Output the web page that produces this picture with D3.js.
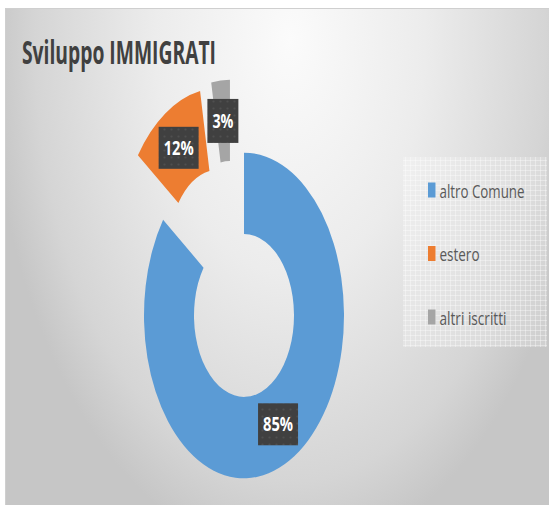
<!DOCTYPE html>
<html><head><meta charset="utf-8">
<script src="https://cdn.jsdelivr.net/npm/d3@7"></script>
<style>html,body{margin:0;padding:0;background:#fff;}svg{display:block;}</style>
</head><body>
<script>
// ---- data ----
const categories = ["altro Comune", "estero", "altri iscritti"];
const values = [85, 12, 3];
const labels = ["85%", "12%", "3%"];
const title = "Sviluppo IMMIGRATI";

// ---- style / layout ----
const colors = ["#5b9bd5", "#ed7d31", "#a5a5a5"];
const explode = [0, 0.47, 0.47];       // fraction of outer radius
const explodeTilt = [0, 0, -12];       // degrees
const W = 549, H = 505;
const cx = 244, cy = 315.5, R = 100, r = 50, k = 1.628;

const svg = d3.select("body").append("svg").attr("width", W).attr("height", H);
const defs = svg.append("defs");

const bg = defs.append("radialGradient").attr("id", "bg")
  .attr("gradientUnits", "userSpaceOnUse")
  .attr("cx", 0).attr("cy", 0).attr("r", 1)
  .attr("gradientTransform", "translate(290,40) scale(300,520)");
[[0, "#fbfbfb"], [0.45, "#ececec"], [0.85, "#d5d5d5"], [1, "#c6c6c6"]]
  .forEach(([o, c]) => bg.append("stop").attr("offset", o).attr("stop-color", c));

const dots = defs.append("pattern").attr("id", "dots").attr("patternUnits", "userSpaceOnUse")
  .attr("width", 7).attr("height", 7);
dots.append("rect").attr("width", 7).attr("height", 7).attr("fill", "#404040");
dots.append("circle").attr("cx", 3.5).attr("cy", 3.5).attr("r", 1.1).attr("fill", "#4f4f4f");

const grid = defs.append("pattern").attr("id", "grid").attr("patternUnits", "userSpaceOnUse")
  .attr("width", 5).attr("height", 5);
grid.append("rect").attr("width", 5).attr("height", 5).attr("fill", "rgba(255,255,255,0.18)");
grid.append("path").attr("d", "M0 0.5H5M0.5 0V5").attr("stroke", "rgba(255,255,255,0.35)").attr("stroke-width", 1);

// helper: vertically stretched text
function sText(parent, x, y, sy, str, size, weight, fill, len) {
  return parent.append("g").attr("transform", `translate(${x},${y}) scale(1,${sy})`)
    .append("text").text(str)
    .attr("font-family", "Open Sans").attr("font-weight", weight).attr("font-size", size)
    .attr("textLength", len).attr("lengthAdjust", "spacingAndGlyphs")
    .attr("fill", fill);
}

// background frame
svg.append("rect").attr("x", 5).attr("y", 8).attr("width", W - 5).attr("height", H - 8)
  .attr("fill", "url(#bg)");
svg.append("path").attr("d", `M5.5 ${H}V8.5H${W}`).attr("fill", "none").attr("stroke", "#cfcfcf");

// title
sText(svg, 22, 63.5, 1.53, title, 21, 700, "#404040", 194);

// donut
const pie = d3.pie().sort(null).value(d => d);
const arcs = pie(values);
const arc = d3.arc().innerRadius(r).outerRadius(R);
const toRad = Math.PI / 180;
function offset(d, i) {
  const a = (d.startAngle + d.endAngle) / 2 + explodeTilt[i] * toRad;
  return [Math.sin(a) * explode[i] * R, -Math.cos(a) * explode[i] * R];
}
const g = svg.append("g").attr("transform", `translate(${cx},${cy}) scale(1,${k})`);
g.selectAll("path").data(arcs).join("path")
  .attr("d", arc)
  .attr("fill", (d, i) => colors[i])
  .attr("transform", (d, i) => { const o = offset(d, i); return `translate(${o[0]},${o[1]})`; });

// data labels
const lbl = svg.append("g");
arcs.forEach((d, i) => {
  const o = offset(d, i);
  const c = arc.centroid(d);
  const x = cx + c[0] + o[0];
  const y = cy + (c[1] + o[1]) * k;
  const short = labels[i].length === 2;
  const tw = short ? 21 : 30;
  const bw = tw + 10, bh = short ? 44 : 42;
  lbl.append("rect").attr("x", x - bw / 2).attr("y", y - bh / 2)
    .attr("width", bw).attr("height", bh)
    .attr("fill", "url(#dots)");
  sText(lbl, x - tw / 2, y + 7.2, 1.3, labels[i], 15, 700, "#ffffff", tw);
});

// legend
const lg = svg.append("g");
lg.append("rect").attr("x", 403).attr("y", 157).attr("width", 144).attr("height", 190)
  .attr("fill", "url(#grid)");
const legW = [85, 40, 67];
const ly = d3.scalePoint().domain(categories).range([190, 317]);
categories.forEach((c, i) => {
  const y = ly(c);
  lg.append("rect").attr("x", 428).attr("y", y - 7.5).attr("width", 7.5).attr("height", 15)
    .attr("fill", colors[i]);
  sText(lg, 439.5, y + 7.5, 1.4, c, 13.5, 400, "#595959", legW[i]);
});
</script>
</body></html>
